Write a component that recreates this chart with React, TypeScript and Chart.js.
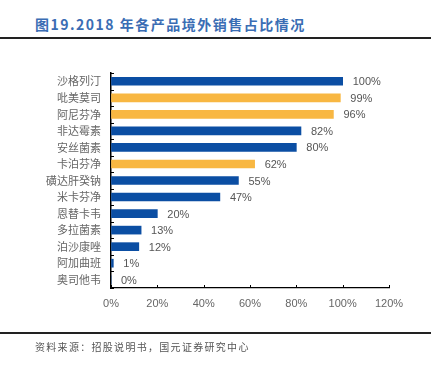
import React, { useEffect, useRef } from "react";
import { Chart, registerables } from "chart.js";

Chart.register(...registerables);

const categories = ["沙格列汀", "吡美莫司", "阿尼芬净", "非达霉素", "安丝菌素", "卡泊芬净", "磺达肝癸钠", "米卡芬净", "恩替卡韦", "多拉菌素", "泊沙康唑", "阿加曲班", "奥司他韦"];
const shares = [100, 99, 96, 82, 80, 62, 55, 47, 20, 13, 12, 1, 0];
const highlighted = [false, true, true, false, false, true, false, false, false, false, false, false, false];
const xTicks = [0, 20, 40, 60, 80, 100, 120];

const BLUE = "#0B4EA3";
const ORANGE = "#F8B742";

const decorPlugin = {
  id: "decor",
  afterDatasetsDraw(chart: any) {
    const ctx = chart.ctx;
    const x = chart.scales.x;
    const y = chart.scales.y;
    ctx.save();
    ctx.strokeStyle = "#000";
    ctx.lineWidth = 1;
    const n = categories.length;
    for (let i = 0; i <= n; i++) {
      const py = Math.round(y.getPixelForValue(i - 0.5)) + 0.5;
      ctx.beginPath();
      ctx.moveTo(x.left, py);
      ctx.lineTo(x.left + 3, py);
      ctx.stroke();
    }
    xTicks.forEach((v) => {
      const px = Math.round(x.getPixelForValue(v)) + 0.5;
      ctx.beginPath();
      ctx.moveTo(px, y.bottom);
      ctx.lineTo(px, y.bottom - 3);
      ctx.stroke();
    });
    ctx.fillStyle = "#555";
    ctx.font = "11px 'Liberation Sans', Arial, sans-serif";
    ctx.textBaseline = "middle";
    ctx.textAlign = "left";
    const meta = chart.getDatasetMeta(0);
    meta.data.forEach((bar: any, i: number) => {
      ctx.fillText(shares[i] + "%", bar.x + 10, bar.y + 1);
    });
    ctx.restore();
  },
};

export default function App() {
  const ref = useRef<HTMLCanvasElement | null>(null);
  useEffect(() => {
    if (!ref.current) return;
    const chart = new Chart(ref.current, {
      type: "bar",
      data: {
        labels: categories,
        datasets: [
          {
            data: shares,
            backgroundColor: highlighted.map((h) => (h ? ORANGE : BLUE)),
            barThickness: 8,
          },
        ],
      },
      options: {
        indexAxis: "y",
        animation: false,
        responsive: false,
        maintainAspectRatio: false,
        layout: { padding: { top: 73, right: 51, bottom: 46, left: 0 } },
        plugins: { legend: { display: false }, tooltip: { enabled: false } },
        scales: {
          x: {
            min: 0,
            max: 120,
            afterBuildTicks(scale: any) {
              scale.ticks = xTicks.map((v) => ({ value: v }));
            },
            afterFit(scale: any) {
              scale.height = 42;
            },
            grid: { display: true, drawOnChartArea: false, drawTicks: false },
            border: { display: true, color: "#000", width: 1.2 },
            ticks: {
              padding: 9,
              color: "#666",
              font: { size: 11, family: "'Liberation Sans', Arial, sans-serif" },
              callback: (v: any) => v + "%",
            },
          },
          y: {
            afterFit(scale: any) {
              scale.width = 111;
            },
            grid: { display: true, drawOnChartArea: false, drawTicks: false },
            border: { display: true, color: "#000", width: 1.5 },
            ticks: {
              padding: 10,
              color: "#666",
              font: { size: 11, family: "'Noto Sans CJK SC', sans-serif" },
            },
          },
        },
      },
      plugins: [decorPlugin],
    });
    return () => chart.destroy();
  }, []);

  return (
    <div style={{ position: "fixed", left: 0, top: 0, width: 440, height: 376, background: "#fff", overflow: "hidden" }}>
      <div
        style={{
          position: "absolute",
          left: 35,
          top: 15,
          fontFamily: "'Noto Sans CJK SC', 'Liberation Sans', sans-serif",
          fontWeight: 700,
          fontSize: 14,
          letterSpacing: 1.5,
          color: "#3A6DB4",
          lineHeight: "18px",
          whiteSpace: "nowrap",
        }}
      >
        图19.2018 年各产品境外销售占比情况
      </div>
      <div style={{ position: "absolute", left: 0, top: 37, width: 431, height: 2, background: "#222" }} />
      <canvas ref={ref} width={440} height={376} style={{ position: "absolute", left: 0, top: 0, width: 440, height: 376 }} />
      <div style={{ position: "absolute", left: 0, top: 332, width: 431, height: 1.5, background: "#222" }} />
      <div
        style={{
          position: "absolute",
          left: 35,
          top: 340,
          fontFamily: "'Noto Sans CJK SC', sans-serif",
          fontSize: 10,
          letterSpacing: 1.3,
          color: "#555",
          lineHeight: "14px",
          whiteSpace: "nowrap",
        }}
      >
        资料来源：招股说明书，国元证券研究中心
      </div>
    </div>
  );
}
